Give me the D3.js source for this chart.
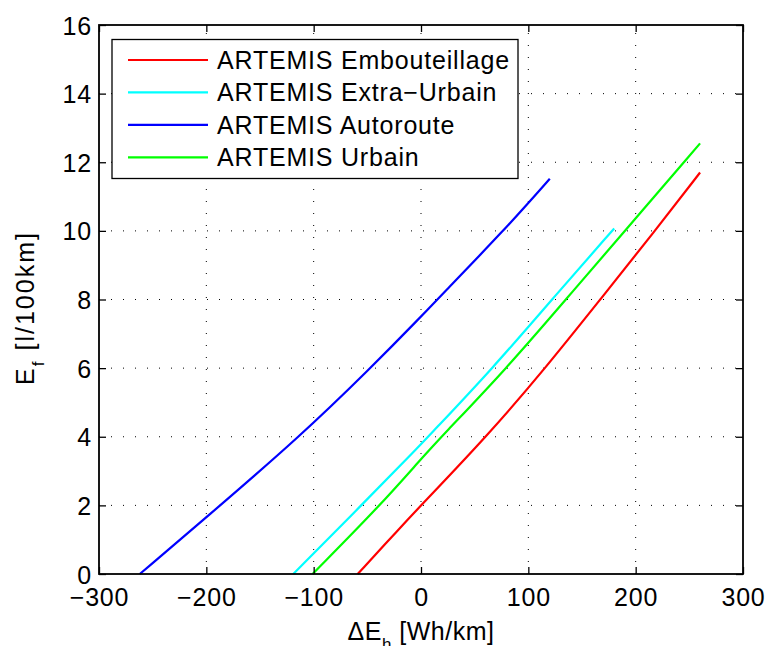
<!DOCTYPE html>
<html>
<head>
<meta charset="utf-8">
<script src="https://cdn.jsdelivr.net/npm/d3@7"></script>
<style>
  html, body { margin: 0; padding: 0; background: #fff; }
  text { font-family: "Liberation Sans", Arial, Helvetica, sans-serif; fill: #000; }
</style>
</head>
<body>
<svg id="chart" width="767" height="646"></svg>
<script>
// ---- data ----
const xTicks = [-300, -200, -100, 0, 100, 200, 300];
const yTicks = [0, 2, 4, 6, 8, 10, 12, 14, 16];

const seriesNames = ["ARTEMIS Embouteillage", "ARTEMIS Extra\u2212Urbain", "ARTEMIS Autoroute", "ARTEMIS Urbain"];
const seriesColors = ["#ff0000", "#00ffff", "#0000ff", "#00ff00"];

const embouteillageX = [-59, -20, 0, 61, 116, 168, 218, 260];
const embouteillageY = [0, 1.33, 2.0, 4, 6, 8.04, 10, 11.7];

const extraUrbainX = [-119, -55.6, 0, 6.5, 67, 123, 180];
const extraUrbainY = [0, 2, 3.78, 4, 6, 8.04, 10.07];

const autorouteX = [-262, -200, -113, -47, 0, 15, 77, 120];
const autorouteY = [0, 1.65, 4, 6, 7.5, 8, 10, 11.52];

const urbainX = [-101, -38, 0, 19, 80, 136, 190, 260];
const urbainY = [0, 2, 3.35, 4, 6, 8.04, 10, 12.55];

const seriesX = [embouteillageX, extraUrbainX, autorouteX, urbainX];
const seriesY = [embouteillageY, extraUrbainY, autorouteY, urbainY];

// ---- layout ----
const svg = d3.select("#chart");
const mLeft = 99, mTop = 25, mRight = 743, mBottom = 574;
const fs = 25;
const ls = "0.8px";

const x = d3.scaleLinear().domain([-300, 300]).range([mLeft, mRight]);
const y = d3.scaleLinear().domain([0, 16]).range([mBottom, mTop]);

const fmt = d => (d < 0 ? "\u2212" + Math.abs(d) : String(d));

// grid
const grid = svg.append("g");
grid.selectAll("line.gx").data(xTicks.slice(1, -1)).enter().append("line")
  .attr("x1", d => x(d)).attr("x2", d => x(d)).attr("y1", mBottom).attr("y2", mTop)
  .attr("stroke", "#000").attr("stroke-width", 1).attr("stroke-dasharray", "1,11");
grid.selectAll("line.gy").data(yTicks.slice(1, -1)).enter().append("line")
  .attr("y1", d => y(d)).attr("y2", d => y(d)).attr("x1", mLeft).attr("x2", mRight)
  .attr("stroke", "#000").attr("stroke-width", 1).attr("stroke-dasharray", "1,11");

// curves
const line = d3.line().x(d => x(d[0])).y(d => y(d[1])).curve(d3.curveBasis);
seriesX.forEach((xs, i) => {
  const pts = xs.map((v, j) => [v, seriesY[i][j]]);
  svg.append("path").datum(pts).attr("d", line)
    .attr("fill", "none").attr("stroke", seriesColors[i]).attr("stroke-width", 2.2);
});

// axes (ticks inward, mirrored on top/right)
const axB = svg.append("g").attr("transform", `translate(0,${mBottom})`)
  .call(d3.axisBottom(x).tickValues(xTicks).tickSize(-7).tickPadding(14).tickFormat(fmt));
const axT = svg.append("g").attr("transform", `translate(0,${mTop})`)
  .call(d3.axisTop(x).tickValues(xTicks).tickSize(-7).tickFormat(""));
const axL = svg.append("g").attr("transform", `translate(${mLeft},0)`)
  .call(d3.axisLeft(y).tickValues(yTicks).tickSize(-7).tickPadding(7).tickFormat(d => d));
const axR = svg.append("g").attr("transform", `translate(${mRight},0)`)
  .call(d3.axisRight(y).tickValues(yTicks).tickSize(-7).tickFormat(""));
[axB, axT, axL, axR].forEach(a => {
  a.select(".domain").remove();
  a.selectAll("line").attr("stroke", "#000").attr("stroke-width", 1.3);
  a.selectAll("text").attr("font-size", fs).attr("letter-spacing", ls)
    .attr("font-family", "Liberation Sans, Arial, sans-serif").attr("fill", "#000");
});
axL.selectAll("text").attr("dy", "0.36em");

// frame
svg.append("rect").attr("x", mLeft).attr("y", mTop).attr("width", mRight - mLeft).attr("height", mBottom - mTop)
  .attr("fill", "none").attr("stroke", "#000").attr("stroke-width", 1.8);

// axis labels
const xl = svg.append("text").attr("x", (mLeft + mRight) / 2).attr("y", 640)
  .attr("text-anchor", "middle").attr("font-size", fs).attr("letter-spacing", "0.5px");
xl.append("tspan").text("\u0394E");
xl.append("tspan").attr("font-size", 17).attr("dy", 10).text("h");
xl.append("tspan").attr("dy", -10).text(" [Wh/km]");

const yl = svg.append("text").attr("transform", `translate(34,308) rotate(-90)`)
  .attr("text-anchor", "middle").attr("font-size", fs).attr("letter-spacing", "2px");
yl.append("tspan").text("E");
yl.append("tspan").attr("font-size", 17).attr("dy", 10).text("f");
yl.append("tspan").attr("dy", -10).text(" [l/100km]");

// legend
const lg = svg.append("g");
lg.append("rect").attr("x", 112).attr("y", 39.5).attr("width", 406).attr("height", 139)
  .attr("fill", "#fff").attr("stroke", "#000").attr("stroke-width", 1.3);
const rowY = d3.scaleLinear().domain([0, 3]).range([60, 157.3]);
seriesNames.forEach((name, i) => {
  lg.append("line").attr("x1", 128).attr("x2", 208).attr("y1", rowY(i)).attr("y2", rowY(i))
    .attr("stroke", seriesColors[i]).attr("stroke-width", 2.2);
  lg.append("text").attr("x", 217).attr("y", rowY(i)).attr("dy", "0.36em")
    .attr("font-size", fs).attr("letter-spacing", ls).text(name);
});
</script>
</body>
</html>
